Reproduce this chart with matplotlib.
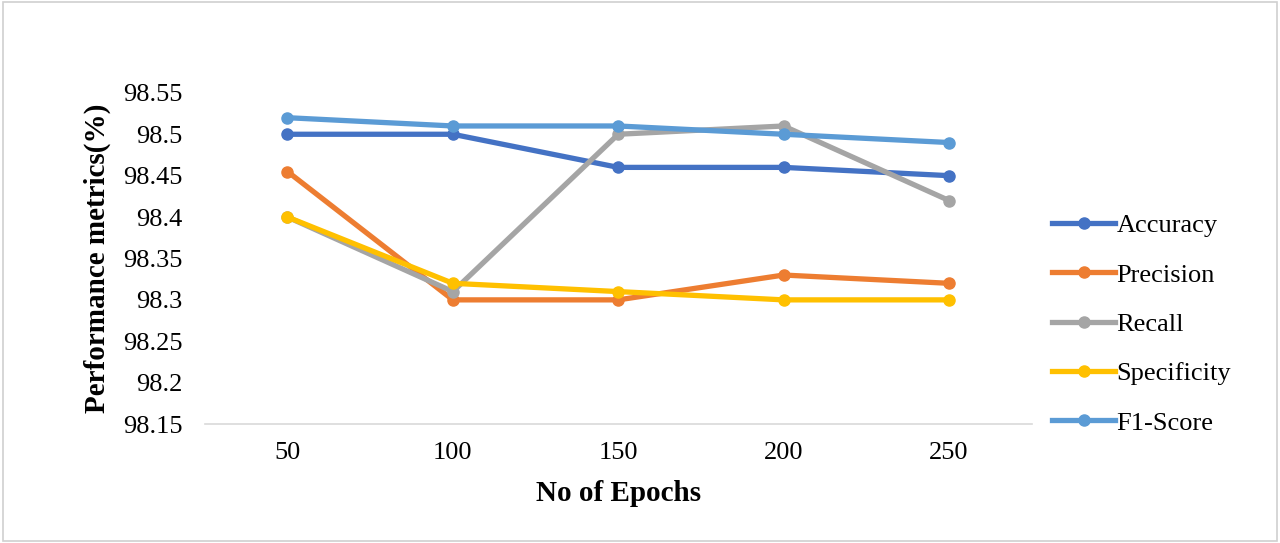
import matplotlib.pyplot as plt
from matplotlib.patches import Rectangle

plt.rcParams['font.family'] = ['Liberation Serif', 'DejaVu Serif']

# data
epochs = ['50', '100', '150', '200', '250']
accuracy = [98.50, 98.50, 98.46, 98.46, 98.45]
precision = [98.455, 98.30, 98.30, 98.33, 98.32]
recall = [98.40, 98.31, 98.50, 98.51, 98.42]
specificity = [98.40, 98.32, 98.31, 98.30, 98.30]
f1_score = [98.52, 98.51, 98.51, 98.50, 98.49]

yticks = [98.15, 98.2, 98.25, 98.3, 98.35, 98.4, 98.45, 98.5, 98.55]
ytick_labels = ['98.15', '98.2', '98.25', '98.3', '98.35', '98.4', '98.45', '98.5', '98.55']

series = [
    ('Accuracy', accuracy, '#4472C4'),
    ('Precision', precision, '#ED7D31'),
    ('Recall', recall, '#A5A5A5'),
    ('Specificity', specificity, '#FFC000'),
    ('F1-Score', f1_score, '#5B9BD5'),
]

fig = plt.figure(figsize=(12.8, 5.43), dpi=100)
ax = fig.add_axes([0.16, 0.219, 0.646, 0.61])

x = range(len(epochs))
for name, vals, col in series:
    ax.plot(x, vals, color=col, lw=3.8, marker='o', markersize=8, label=name)

ax.set_xlim(-0.5, len(epochs) - 0.5)
ax.set_ylim(98.15, 98.55)
ax.set_xticks(list(x))
ax.set_xticklabels(epochs)
ax.set_yticks(yticks)
ax.set_yticklabels(ytick_labels)
ax.tick_params(length=0, labelsize=19)
ax.tick_params(axis='y', pad=16)
ax.tick_params(axis='x', pad=13)

for s in ['top', 'right', 'left']:
    ax.spines[s].set_visible(False)
ax.spines['bottom'].set_color('#D9D9D9')
ax.spines['bottom'].set_linewidth(1.2)

ax.set_xlabel('No of Epochs', fontsize=21, fontweight='bold')
ax.set_ylabel('Performance metrics(%)', fontsize=21, fontweight='bold')
ax.xaxis.set_label_coords(0.5, -0.17)
ax.yaxis.set_label_coords(-0.114, 0.5)

ax.legend(loc='center left', bbox_to_anchor=(0.8115, 0.403), bbox_transform=fig.transFigure,
          frameon=False, fontsize=19, handlelength=2.4, handletextpad=0.05,
          labelspacing=0.98, borderpad=0)

fig.add_artist(Rectangle((0.002, 0.003), 0.996, 0.994, transform=fig.transFigure,
                         fill=False, edgecolor='#D0D0D0', lw=1.2))

fig.savefig('out.png', dpi=100)
